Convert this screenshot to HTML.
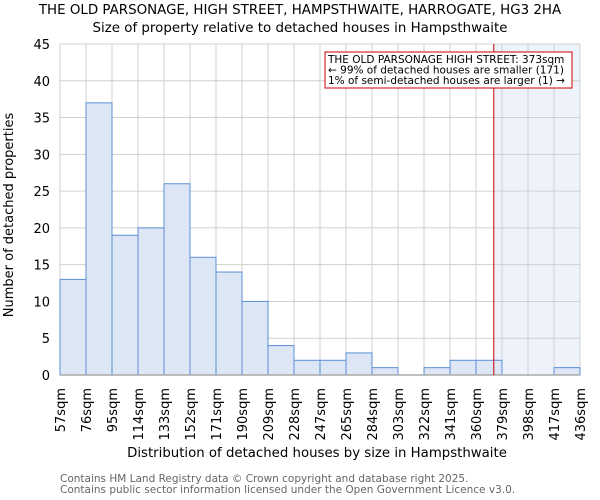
<!DOCTYPE html>
<html><head><meta charset="utf-8"><style>
body{margin:0;background:#fff}
svg{display:block;font-family:"DejaVu Sans","Liberation Sans",sans-serif}
</style></head><body>
<svg id="chart" width="600" height="500">
<text x="300" y="14" font-size="13.4" text-anchor="middle" fill="#000">THE OLD PARSONAGE, HIGH STREET, HAMPSTHWAITE, HARROGATE, HG3 2HA</text>
<text x="300" y="32" font-size="13.4" text-anchor="middle" fill="#000">Size of property relative to detached houses in Hampsthwaite</text>
<g id="grid"></g>
<g id="bars"></g>
<g id="axes"></g>
<text x="317" y="457" font-size="13.3" text-anchor="middle">Distribution of detached houses by size in Hampsthwaite</text>
<text transform="translate(13,215) rotate(-90)" font-size="13" text-anchor="middle">Number of detached properties</text>
<text x="60" y="482" font-size="10.5" fill="#666">Contains HM Land Registry data © Crown copyright and database right 2025.</text>
<text x="60" y="493" font-size="10.5" fill="#666">Contains public sector information licensed under the Open Government Licence v3.0.</text>
</svg>
<script>
const categories=["57sqm","76sqm","95sqm","114sqm","133sqm","152sqm","171sqm","190sqm","209sqm","228sqm","247sqm","265sqm","284sqm","303sqm","322sqm","341sqm","360sqm","379sqm","398sqm","417sqm","436sqm"];
const counts=[13,37,19,20,26,16,14,10,4,2,2,3,1,0,1,2,2,0,0,1];
const yTicks=[0,5,10,15,20,25,30,35,40,45];
const binEdges=[57,76,95,114,133,152,171,190,209,228,247,265,284,303,322,341,360,379,398,417,436];
const markerValue=373;
const NS="http://www.w3.org/2000/svg";
const L=60,R=580,T=44,B=375,yMax=45;
const n=counts.length,bw=(R-L)/n;
function xs(i){return L+i*bw;}
function ys(v){return B-(v/yMax)*(B-T);}
function xv(v){for(let i=0;i<binEdges.length-1;i++){if(v<=binEdges[i+1]){return xs(i)+(v-binEdges[i])/(binEdges[i+1]-binEdges[i])*bw;}}return R;}
function mk(tag,attrs,parent){const e=document.createElementNS(NS,tag);for(const k in attrs)e.setAttribute(k,attrs[k]);parent.appendChild(e);return e;}
const grid=document.getElementById('grid'),bars=document.getElementById('bars'),axes=document.getElementById('axes');
const mx=xv(markerValue);
const sh=mk('rect',{x:mx,y:T,width:R-mx,height:B-T,fill:'#eef3fb'},grid);


yTicks.forEach(t=>{
 const l=mk('line',{x1:L,x2:R,y1:ys(t),y2:ys(t),stroke:'#d0d0d0','stroke-width':1},grid);
 
 
 const tx=mk('text',{x:L-10,y:ys(t)+5,'font-size':13,'text-anchor':'end'},axes);
 tx.textContent=t;
 
 
});
categories.forEach((c,i)=>{
 const l=mk('line',{x1:xs(i),x2:xs(i),y1:T,y2:B,stroke:'#d0d0d0','stroke-width':1},grid);
 
 
 const tx=mk('text',{transform:`translate(${xs(i)+5},388) rotate(-90)`,'font-size':13,'text-anchor':'end'},axes);
 tx.textContent=c;
 
 
});
counts.forEach((v,i)=>{
 if(v<=0)return;
 const r=mk('rect',{x:xs(i),y:ys(v),width:bw,height:B-ys(v),fill:'#dce6f4',stroke:'#5b8fd6','stroke-width':1},bars);
 
 
});
const ax=mk('line',{x1:L,x2:R,y1:B,y2:B,stroke:'#aaa','stroke-width':1.5},axes);


const ml=mk('line',{x1:mx,x2:mx,y1:T,y2:B,stroke:'#cc0000','stroke-width':1},axes);


const bx=mk('rect',{x:325,y:52,width:247,height:36,fill:'#fff',stroke:'#cc0000','stroke-width':1},axes);


["THE OLD PARSONAGE HIGH STREET: 373sqm","← 99% of detached houses are smaller (171)","1% of semi-detached houses are larger (1) →"].forEach((s,i)=>{
 const t=mk('text',{x:328,y:63+i*10.5,'font-size':10.5},axes);
 t.textContent=s;
 
 
});
</script>
</body></html>
